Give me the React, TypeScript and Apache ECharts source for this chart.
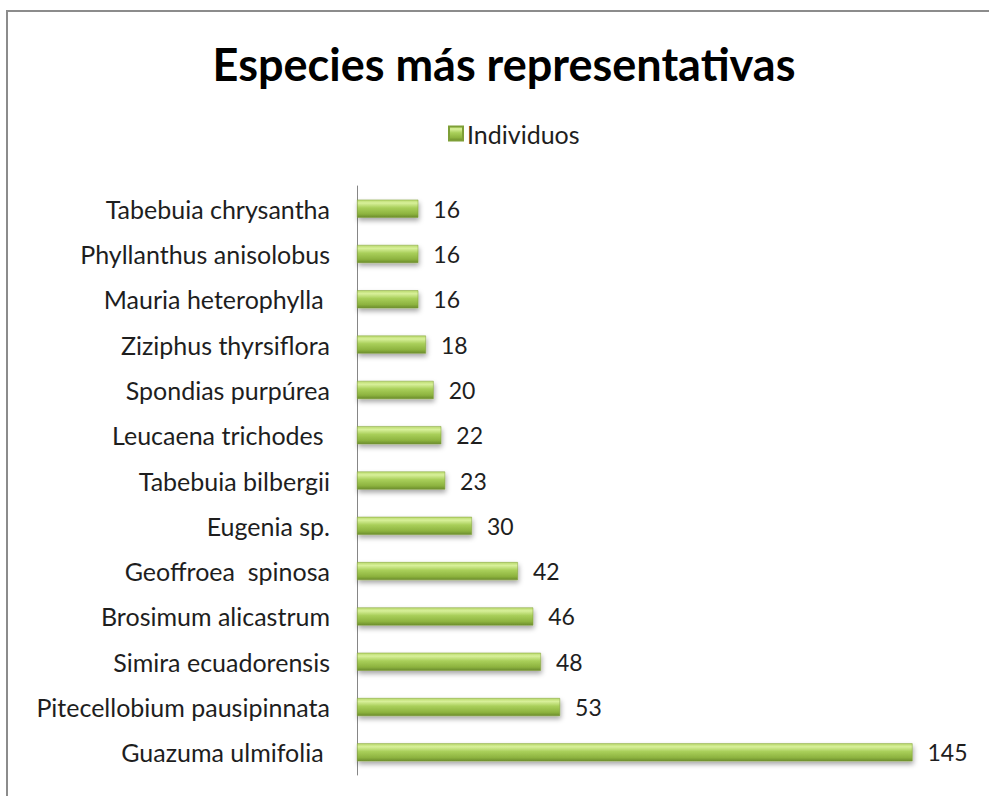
import React, { useEffect, useRef } from "react";
import * as echarts from "echarts";

const categories = [
  "Guazuma ulmifolia ",
  "Pitecellobium pausipinnata",
  "Simira ecuadorensis",
  "Brosimum alicastrum",
  "Geoffroea  spinosa",
  "Eugenia sp.",
  "Tabebuia bilbergii",
  "Leucaena trichodes ",
  "Spondias purpúrea",
  "Ziziphus thyrsiflora",
  "Mauria heterophylla ",
  "Phyllanthus anisolobus",
  "Tabebuia chrysantha",
];
const values = [145, 53, 48, 46, 42, 30, 23, 22, 20, 18, 16, 16, 16];
const seriesName = "Individuos";
const titleText = "Especies más representativas";

const FONT = "Lato, 'Open Sans', sans-serif";

export default function App() {
  const ref = useRef<HTMLDivElement>(null);
  useEffect(() => {
    if (!ref.current) return;
    const chart = echarts.init(ref.current, null, { renderer: "svg" });
    const barGradient = new echarts.graphic.LinearGradient(0, 0, 0, 1, [
      { offset: 0, color: "#b9d96c" },
      { offset: 0.18, color: "#d8f09a" },
      { offset: 0.45, color: "#a9cf5a" },
      { offset: 0.8, color: "#8db33f" },
      { offset: 1, color: "#6b8c2c" },
    ]);
    chart.setOption({
      animation: false,
      backgroundColor: "#ffffff",
      title: {
        text: titleText,
        left: 499,
        textAlign: "center",
        top: 36,
        textStyle: {
          fontFamily: FONT,
          fontSize: 45,
          fontWeight: "bold",
          color: "#000000",
        },
      },
      legend: {
        data: [seriesName],
        left: 443,
        top: 116,
        itemWidth: 14,
        itemHeight: 14,
        itemGap: 5,
        icon: "rect",
        textStyle: { fontFamily: FONT, fontSize: 25, color: "#1e1e1e", padding: [0, 0, 0, -1] },
      },
      grid: { left: 357, right: 19, top: 186, bottom: 21 },
      xAxis: {
        type: "value",
        min: 0,
        max: 160,
        show: false,
      },
      yAxis: {
        type: "category",
        data: categories,
        axisLine: { show: true, lineStyle: { color: "#868686", width: 1 } },
        axisTick: { show: false },
        axisLabel: {
          fontFamily: FONT,
          fontSize: 25,
          color: "#1e1e1e",
          margin: 27,
        },
      },
      series: [
        {
          name: seriesName,
          type: "bar",
          data: values,
          barWidth: 18,
          itemStyle: {
            color: barGradient,
            borderColor: "#7e9f37",
            borderWidth: 0.5,
            shadowColor: "rgba(0,0,0,0.35)",
            shadowBlur: 5,
            shadowOffsetX: 1,
            shadowOffsetY: 3,
          },
          label: {
            show: true,
            position: "right",
            distance: 15,
            fontFamily: FONT,
            fontSize: 23,
            color: "#1e1e1e",
          },
        },
      ],
    });
    return () => chart.dispose();
  }, []);
  return (
    <div
      style={{
        position: "absolute",
        left: 0,
        top: 0,
        width: 989,
        height: 796,
        overflow: "hidden",
        background: "#ffffff",
      }}
    >
      <div ref={ref} style={{ position: "absolute", left: 0, top: 0, width: 989, height: 796 }} />
      <div
        style={{
          position: "absolute",
          left: 6,
          top: 10,
          width: 1200,
          height: 1000,
          boxSizing: "border-box",
          borderTop: "2px solid #8c8c8c",
          borderLeft: "2px solid #8c8c8c",
          pointerEvents: "none",
        }}
      />
    </div>
  );
}
